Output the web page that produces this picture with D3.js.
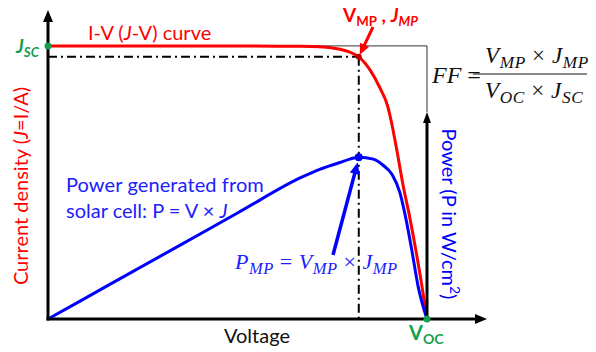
<!DOCTYPE html>
<html>
<head>
<meta charset="utf-8">
<script src="https://cdn.jsdelivr.net/npm/d3@7"></script>
<style>
body { margin: 0; background: #fff; }
text { font-family: Lato, "Open Sans", sans-serif; }
.math { font-family: "Liberation Serif", serif; font-style: italic; }
</style>
</head>
<body>
<div id="viz"></div>
<script>
// J-V curve (V in volts, J in mA/cm2)
const jvVoltage = [0, 0.20, 0.40, 0.43, 0.46, 0.478, 0.492, 0.51, 0.525, 0.538, 0.543, 0.553, 0.562, 0.573, 0.592, 0.60];
const jvCurrent = [35, 35, 34.95, 34.9, 34.6, 34.2, 33.6, 31.9, 29.7, 27.2, 25.5, 21.3, 17.2, 12.9, 4.2, 0];

// power curve (mW/cm2)
const pVoltage = [0, 0.10, 0.20, 0.30, 0.40, 0.43, 0.462, 0.478, 0.492, 0.515, 0.53, 0.545, 0.557, 0.567, 0.576, 0.586, 0.60];
const pPower = [0, 3.6, 7.2, 10.8, 14.4, 15.25, 15.95, 16.3, 16.5, 16.3, 15.7, 14.7, 12.9, 10.1, 7.0, 3.3, 0];

// key points
const jsc = 35, voc = 0.60;
const vmp = 0.492, jmp = 33.6, pmp = 16.5;

const width = 596;
const height = 352;
const RED = "#ff0000", BLUE = "#0000ff", GREEN = "#13a04c";

const svg = d3.select('#viz').append('svg')
    .attr('width', width)
    .attr('height', height);

// axis ends carry the arrows, so domains reach a bit past the data
const x = d3.scaleLinear().domain([0, 0.695]).range([48, 487]);
const yJ = d3.scaleLinear().domain([0, 39.6]).range([319, 10]);
const yP = d3.scaleLinear().domain([0, 21.1]).range([319, 112]);

const jvData = jvVoltage.map((v, i) => ({ v: v, y: jvCurrent[i] }));
const pData = pVoltage.map((v, i) => ({ v: v, y: pPower[i] }));

function arrowHead(tx, ty, angle, len, wid, color) {
    const a = angle * Math.PI / 180;
    const bx = tx - len * Math.cos(a), by = ty - len * Math.sin(a);
    const nx = -Math.sin(a) * wid / 2, ny = Math.cos(a) * wid / 2;
    svg.append('path')
        .attr('d', `M${tx},${ty}L${bx + nx},${by + ny}L${bx - nx},${by - ny}Z`)
        .attr('fill', color);
}

function arrow(x1, y1, x2, y2, color, sw, len, wid) {
    const ang = Math.atan2(y2 - y1, x2 - x1);
    svg.append('line')
        .attr('x1', x1).attr('y1', y1)
        .attr('x2', x2 - (len - 2) * Math.cos(ang)).attr('y2', y2 - (len - 2) * Math.sin(ang))
        .attr('stroke', color).attr('stroke-width', sw);
    arrowHead(x2, y2, ang * 180 / Math.PI, len, wid, color);
}

// dash-dot guides to the max power point
const dashDot = "9,4,2,4";
svg.append('line')
    .attr('x1', x(0)).attr('y1', yJ(jmp))
    .attr('x2', x(vmp)).attr('y2', yJ(jmp))
    .attr('stroke', 'black').attr('stroke-width', 2)
    .attr('stroke-dasharray', dashDot);
svg.append('line')
    .attr('x1', x(vmp)).attr('y1', yJ(jmp))
    .attr('x2', x(vmp)).attr('y2', yJ(0))
    .attr('stroke', 'black').attr('stroke-width', 2)
    .attr('stroke-dasharray', dashDot);

// thin box Jsc x Voc
svg.append('path')
    .attr('d', `M${x(0)},${yJ(jsc)}H${x(voc)}V${yP.range()[1]}`)
    .attr('fill', 'none')
    .attr('stroke', '#333')
    .attr('stroke-width', 1);

const jvLine = d3.line()
    .x(d => x(d.v))
    .y(d => yJ(d.y))
    .curve(d3.curveMonotoneX);

const pLine = d3.line()
    .x(d => x(d.v))
    .y(d => yP(d.y))
    .curve(d3.curveMonotoneX);

svg.append('path')
    .datum(jvData)
    .attr('d', jvLine)
    .attr('fill', 'none')
    .attr('stroke', RED)
    .attr('stroke-width', 3);

svg.append('path')
    .datum(pData)
    .attr('d', pLine)
    .attr('fill', 'none')
    .attr('stroke', BLUE)
    .attr('stroke-width', 3);

// axes
arrow(x(0), yJ(0) + 1.5, x(0), yJ.range()[1], 'black', 3, 12, 10);
arrow(x(0) - 1.5, yJ(0), x.range()[1], yJ(0), 'black', 3, 12, 10);
arrow(x(voc), yP(0), x(voc), yP.range()[1], 'black', 3, 11, 8);

// points
svg.append('circle').attr('cx', x(0)).attr('cy', yJ(jsc)).attr('r', 3.5).attr('fill', GREEN);
svg.append('circle').attr('cx', x(voc)).attr('cy', yJ(0)).attr('r', 3.5).attr('fill', GREEN);
svg.append('circle').attr('cx', x(vmp)).attr('cy', yJ(jmp)).attr('r', 3).attr('fill', '#c00000');
svg.append('circle').attr('cx', x(vmp)).attr('cy', yP(pmp)).attr('r', 4).attr('fill', BLUE);

// annotation arrows
arrow(373, 27, x(vmp) + 1, yJ(jmp) - 2, RED, 3, 11, 10);
arrow(333, 255, x(vmp) - 1, yP(pmp) + 5, BLUE, 3.5, 12, 10);

// rich text helper: parts = [{t, i: italic, sub, sup, up: upright}]
function rich(xp, yp, parts, opts) {
    const t = svg.append('text')
        .attr('x', xp).attr('y', yp)
        .attr('fill', opts.color)
        .attr('font-size', opts.size)
        .attr('text-anchor', opts.anchor || 'start');
    if (opts.cls) t.attr('class', opts.cls);
    if (opts.bold) t.attr('font-weight', 'bold');
    if (opts.transform) t.attr('transform', opts.transform);
    if (opts.spacing) t.attr('letter-spacing', opts.spacing);
    let shift = 0;
    parts.forEach(p => {
        const s = t.append('tspan').text(p.t);
        let dy = 0;
        if (p.sub) dy = opts.size * 0.22;
        if (p.sup) dy = -opts.size * 0.38;
        s.attr('dy', dy - shift);
        shift = dy;
        if (p.sub || p.sup) s.attr('font-size', opts.size * (opts.subScale || 0.7));
        if (p.i) s.attr('font-style', 'italic');
        if (p.up) s.attr('font-style', 'normal');
    });
    return t;
}

rich(88, 40, [{ t: 'I-V (' }, { t: 'J', i: true }, { t: '-V) curve' }], { color: RED, size: 20 });

rich(16, 53, [{ t: 'J', i: true }, { t: 'SC', sub: true, i: true }], { color: GREEN, size: 19, bold: true });

rich(343, 22, [{ t: 'V' }, { t: 'MP', sub: true }, { t: ' , ' }, { t: 'J', i: true }, { t: 'MP', sub: true, i: true }],
    { color: RED, size: 19, bold: true });

rich(0, 0, [{ t: 'Current density (' }, { t: 'J', i: true }, { t: '=I/A)' }],
    { color: RED, size: 20, anchor: 'middle', transform: 'translate(28,186) rotate(-90)' });

rich(0, 0, [{ t: 'Power (P in W/cm' }, { t: '2', sup: true }, { t: ')' }],
    { color: BLUE, size: 20, anchor: 'middle', transform: 'translate(442,214) rotate(90)' });

rich(257, 343, [{ t: 'Voltage' }], { color: '#111', size: 20, anchor: 'middle' });

rich(409, 340, [{ t: 'V' }, { t: 'OC', sub: true }], { color: GREEN, size: 20, bold: true });

rich(66, 192, [{ t: 'Power generated from' }], { color: '#2020ff', size: 20, spacing: 0.1 });
rich(66, 218, [{ t: 'solar cell: P = V × ' }, { t: 'J', i: true }], { color: '#2020ff', size: 20 });

rich(235, 269, [{ t: 'P' }, { t: 'MP', sub: true }, { t: ' = ', up: true }, { t: 'V' }, { t: 'MP', sub: true },
    { t: ' × ', up: true }, { t: 'J' }, { t: 'MP', sub: true }],
    { color: '#2020ff', size: 22, cls: 'math', spacing: 0.5, subScale: 0.75 });

// fill factor
rich(432, 83, [{ t: 'FF' }, { t: ' =', up: true }], { color: '#111', size: 24, cls: 'math' });
svg.append('line')
    .attr('x1', 473).attr('x2', 587)
    .attr('y1', 74).attr('y2', 74)
    .attr('stroke', '#111').attr('stroke-width', 1.2);
rich(485, 63, [{ t: 'V' }, { t: 'MP', sub: true }, { t: ' × ', up: true }, { t: 'J' }, { t: 'MP', sub: true }],
    { color: '#111', size: 23, cls: 'math', spacing: 0.6, subScale: 0.75 });
rich(485, 98, [{ t: 'V' }, { t: 'OC', sub: true }, { t: ' × ', up: true }, { t: 'J' }, { t: 'SC', sub: true }],
    { color: '#111', size: 23, cls: 'math', spacing: 0.6, subScale: 0.75 });
</script>
</body>
</html>
